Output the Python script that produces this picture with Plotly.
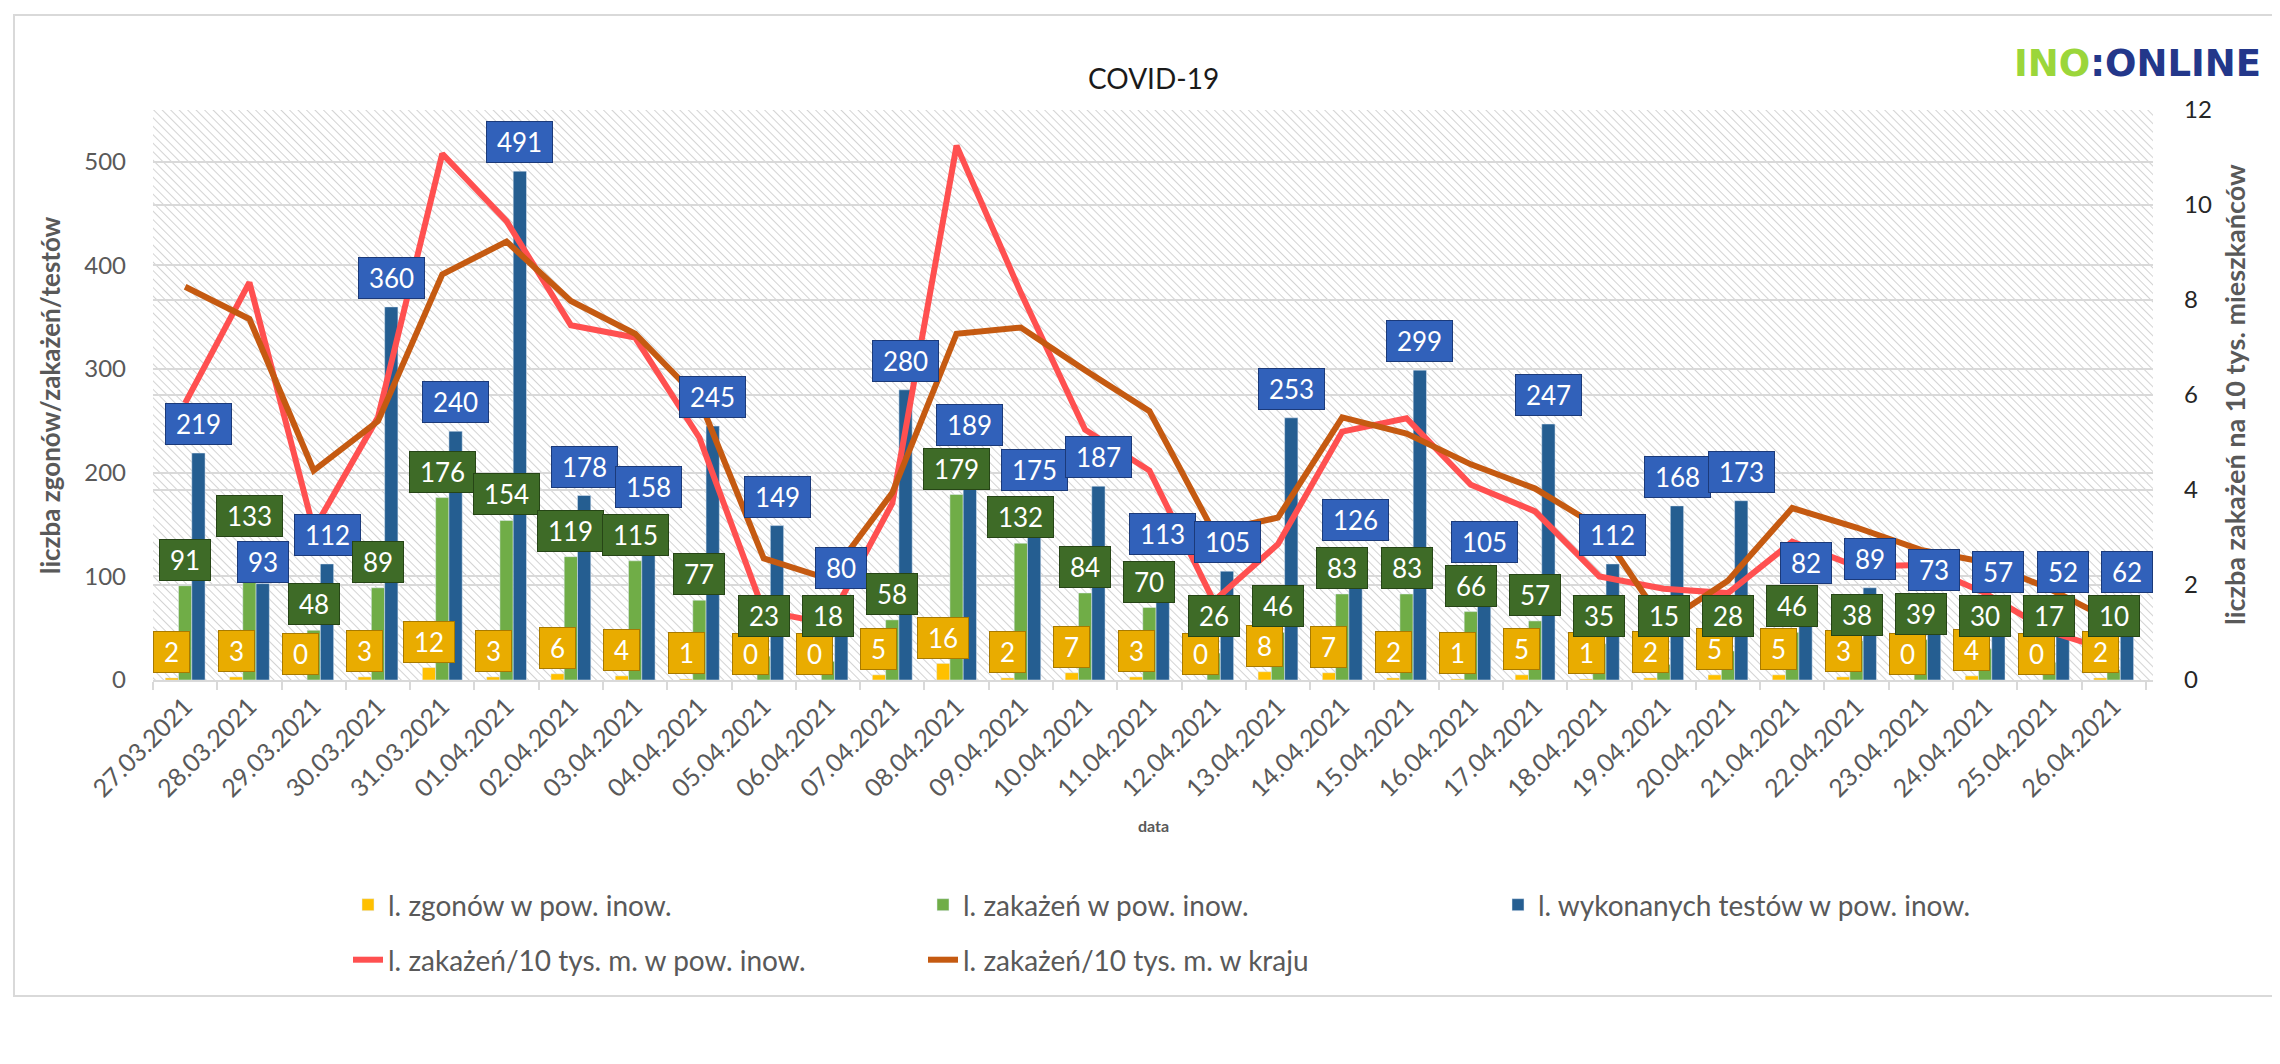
import base64
import plotly.graph_objects as go

# ---------------- data ----------------
dates = ["27.03.2021", "28.03.2021", "29.03.2021", "30.03.2021", "31.03.2021",
         "01.04.2021", "02.04.2021", "03.04.2021", "04.04.2021", "05.04.2021",
         "06.04.2021", "07.04.2021", "08.04.2021", "09.04.2021", "10.04.2021",
         "11.04.2021", "12.04.2021", "13.04.2021", "14.04.2021", "15.04.2021",
         "16.04.2021", "17.04.2021", "18.04.2021", "19.04.2021", "20.04.2021",
         "21.04.2021", "22.04.2021", "23.04.2021", "24.04.2021", "25.04.2021",
         "26.04.2021"]

zgony = [2, 3, 0, 3, 12, 3, 6, 4, 1, 0, 0, 5, 16, 2, 7, 3, 0, 8, 7, 2,
         1, 5, 1, 2, 5, 5, 3, 0, 4, 0, 2]
zakazenia = [91, 133, 48, 89, 176, 154, 119, 115, 77, 23, 18, 58, 179, 132, 84, 70,
             26, 46, 83, 83, 66, 57, 35, 15, 28, 46, 38, 39, 30, 17, 10]
testy = [219, 93, 112, 360, 240, 491, 178, 158, 245, 149, 80, 280, 189, 175, 187, 113,
         105, 253, 126, 299, 105, 247, 112, 168, 173, 82, 89, 73, 57, 52, 62]

na10tys_powiat = [5.83, 8.37, 3.17, 5.53, 11.08, 9.66, 7.47, 7.21, 5.1, 1.45, 1.19,
                  3.72, 11.25, 8.15, 5.27, 4.41, 1.66, 2.86, 5.23, 5.51, 4.11, 3.55,
                  2.18, 1.92, 1.83, 2.91, 2.39, 2.42, 1.83, 1.02, 0.6]
na10tys_kraj = [8.28, 7.6, 4.41, 5.45, 8.54, 9.23, 7.98, 7.29, 5.9, 2.56, 2.13, 3.94,
                7.29, 7.42, 6.52, 5.66, 3.12, 3.42, 5.53, 5.19, 4.54, 4.03, 3.21, 1.19,
                2.09, 3.62, 3.21, 2.74, 2.48, 1.92, 1.23]

left_ticks = [0, 100, 200, 300, 400, 500]
right_ticks = [0, 2, 4, 6, 8, 10, 12]

# ---------------- styles ----------------
FONT = "Lato"
GRAY = "#595959"
C_YEL = "#FFC000"
C_GRN = "#70AD47"
C_BLU = "#255E91"
C_RED = "#FF5050"
C_BRN = "#C55A11"

W, H = 2280, 1064
ML, MR, MT, MB = 145, 135, 102, 392
PW, PH = W - ML - MR, H - MT - MB

fig = go.Figure()

fig.add_trace(go.Bar(x=dates, y=zgony, name="l. zgonów w pow. inow.",
                     marker_color=C_YEL, legend="legend"))
fig.add_trace(go.Bar(x=dates, y=zakazenia, name="l. zakażeń w pow. inow.",
                     marker_color=C_GRN, legend="legend"))
fig.add_trace(go.Bar(x=dates, y=testy, name="l. wykonanych testów w pow. inow.",
                     marker_color=C_BLU, legend="legend"))
fig.add_trace(go.Scatter(x=dates, y=na10tys_powiat, name="l. zakażeń/10 tys. m. w pow. inow.",
                         mode="lines", line=dict(color=C_RED, width=6), yaxis="y2",
                         legend="legend2"))
fig.add_trace(go.Scatter(x=dates, y=na10tys_kraj, name="l. zakażeń/10 tys. m. w kraju",
                         mode="lines", line=dict(color=C_BRN, width=6), yaxis="y2",
                         legend="legend2"))

# ---------------- data labels (callout boxes) ----------------
BARGAP = 0.38
cat_px = PW / len(dates)
bar_px = cat_px * (1 - BARGAP) / 3

ann = []


def box(xv, yv, txt, shift, bg, border):
    n = len(txt)
    ann.append(dict(x=xv, y=yv, xref="x", yref="y", text=txt, showarrow=False,
                    xshift=shift, font=dict(family=FONT, size=26, color="white"),
                    bgcolor=bg, bordercolor=border, borderwidth=1, borderpad=3,
                    width=14 + 15 * n, height=34, xanchor="center", yanchor="middle"))


for i, d in enumerate(dates):
    y_lab = zgony[i] + 25
    g_lab = max(zakazenia[i] + 25, 62)
    b_lab = testy[i] + 28
    if abs(b_lab - g_lab) < 42:
        if testy[i] < zakazenia[i]:
            b_lab = g_lab - 44
        else:
            b_lab = g_lab + 42
    box(d, y_lab, str(zgony[i]), -bar_px, "#E9AC00", "#A87A00")
    box(d, g_lab, str(zakazenia[i]), 0, "#3E6B27", "#264516")
    box(d, b_lab, str(testy[i]), bar_px, "#3161BA", "#1B3A7A")

# titles / texts
ann.append(dict(x=0.5, y=(MT + PH - 829) / PH, xref="paper", yref="paper",
                text="<b>data</b>", showarrow=False,
                font=dict(family=FONT, size=16, color=GRAY)))
ann.append(dict(x=(42 - ML) / PW, y=0.5, xref="paper", yref="paper",
                xanchor="center", yanchor="middle",
                text="<b>liczba zgonów/zakażeń/testów</b>", textangle=-90, showarrow=False,
                font=dict(family=FONT, size=26, color=GRAY)))
ann.append(dict(x=(2226 - ML) / PW, y=0.5, xref="paper", yref="paper",
                xanchor="center", yanchor="middle",
                text="<b>liczba zakażeń na 10 tys. mieszkańców</b>", textangle=-90,
                showarrow=False, font=dict(family=FONT, size=27, color=GRAY)))
ann.append(dict(x=0.5, y=(MT + PH - 51) / PH, xref="paper", yref="paper",
                text="COVID-19", showarrow=False,
                font=dict(family=FONT, size=28, color="#1a1a1a")))
ann.append(dict(x=(2255 - ML) / PW, y=(MT + PH - 56) / PH, xref="paper", yref="paper",
                xanchor="right", yanchor="middle", showarrow=False,
                text="<b><span style='color:#9BD63A'>INO</span>"
                     "<span style='color:#23378A'>:ONLINE</span></b>",
                font=dict(family="DejaVu Sans", size=37)))

# hatched plot background
svg = ("<svg xmlns='http://www.w3.org/2000/svg' width='%d' height='%d'>"
       "<defs><pattern id='p' width='6' height='6' patternUnits='userSpaceOnUse' "
       "patternTransform='rotate(-45)'><line x1='0' y1='0' x2='0' y2='6' "
       "stroke='#c8c8c8' stroke-width='1.6'/></pattern></defs>"
       "<rect width='100%%' height='100%%' fill='white'/>"
       "<rect width='100%%' height='100%%' fill='url(#p)'/></svg>") % (PW, PH)
src = "data:image/svg+xml;base64," + base64.b64encode(svg.encode()).decode()

fig.update_layout(
    width=W, height=H,
    margin=dict(l=ML, r=MR, t=MT, b=MB, pad=0),
    paper_bgcolor="white", plot_bgcolor="rgba(0,0,0,0)",
    barmode="group", bargap=BARGAP, bargroupgap=0,
    showlegend=True,
    font=dict(family=FONT, color=GRAY),
    annotations=ann,
    images=[dict(source=src, xref="paper", yref="paper", x=0, y=1, sizex=1, sizey=1,
                 sizing="stretch", layer="below", xanchor="left", yanchor="top")],
    shapes=[dict(type="rect", xref="paper", yref="paper",
                 x0=(6 - ML) / PW, x1=(2273 - ML) / PW,
                 y0=(MT + PH - 988) / PH, y1=(MT + PH - 7) / PH,
                 line=dict(color="#D9D9D9", width=2), layer="below")],
    xaxis=dict(type="category", tickangle=-45, tickfont=dict(family=FONT, size=25, color=GRAY),
               showline=True, linecolor="#D9D9D9", linewidth=2, ticks="outside",
               tickson="boundaries", ticklen=8, tickcolor="#D9D9D9", tickwidth=2,
               showgrid=False, zeroline=False),
    yaxis=dict(range=[0, 550], tickvals=left_ticks, tickfont=dict(family=FONT, size=24, color=GRAY),
               showgrid=True, gridcolor="#D9D9D9", gridwidth=2, zeroline=False,
               ticks="", ticklabelstandoff=26),
    yaxis2=dict(range=[0, 12], tickvals=right_ticks, overlaying="y", side="right",
                tickfont=dict(family=FONT, size=24, color="#262626"),
                showgrid=True, gridcolor="#D9D9D9", gridwidth=2, zeroline=False,
                ticks="", ticklabelstandoff=30),
    legend=dict(orientation="h", x=(340 - ML) / PW, xanchor="left",
                y=(MT + PH - 897) / PH, yanchor="middle",
                entrywidth=530, entrywidthmode="pixels",
                font=dict(family=FONT, size=28, color=GRAY), bgcolor="rgba(0,0,0,0)"),
    legend2=dict(orientation="h", x=(340 - ML) / PW, xanchor="left",
                 y=(MT + PH - 952) / PH, yanchor="middle",
                 entrywidth=530, entrywidthmode="pixels",
                 font=dict(family=FONT, size=28, color=GRAY), bgcolor="rgba(0,0,0,0)"),
)

fig.write_html("out.html")
